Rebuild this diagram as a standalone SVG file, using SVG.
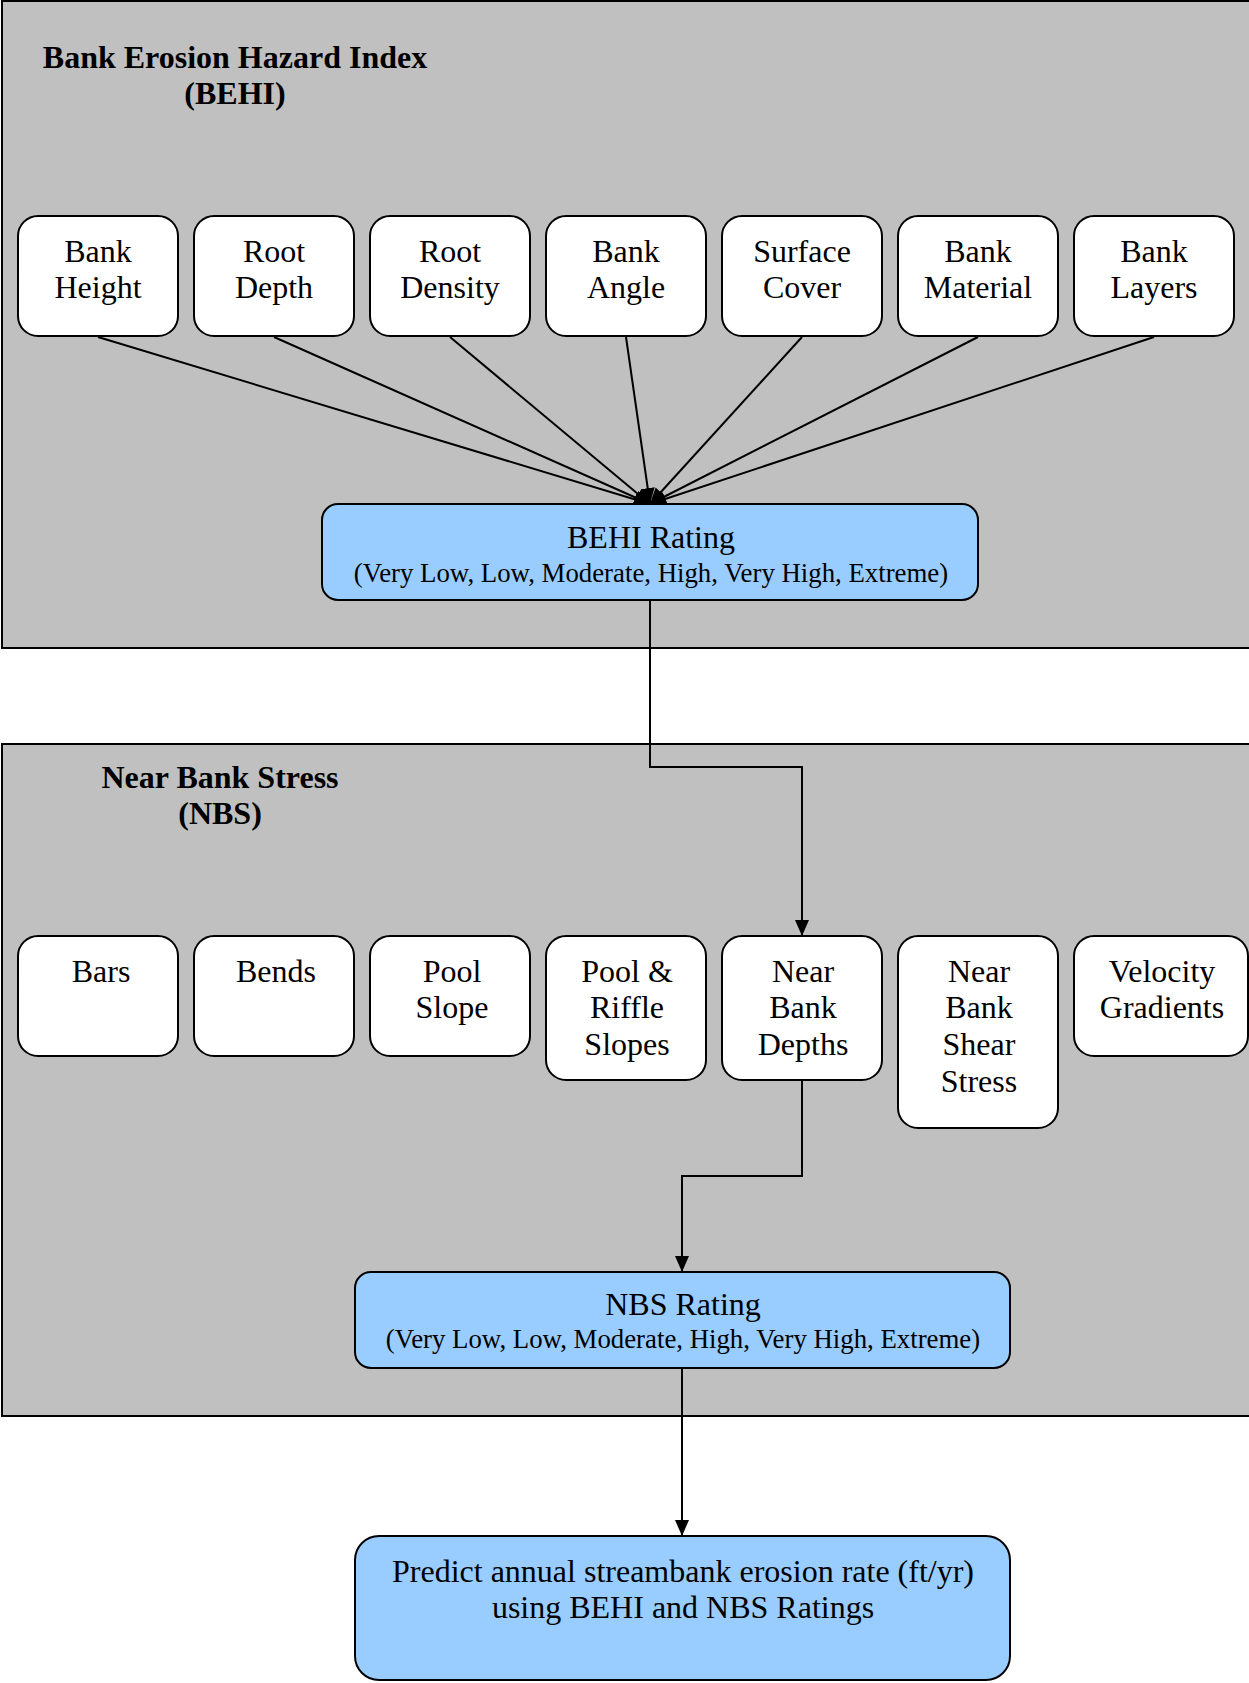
<svg xmlns="http://www.w3.org/2000/svg" width="1249" height="1683" viewBox="0 0 1249 1683">
<defs>
<style>
.panel{fill:#C0C0C0;stroke:#000;stroke-width:2}
.node{fill:#fff;stroke:#000;stroke-width:2}
.rate{fill:#99CCFF;stroke:#000;stroke-width:2}
.t{font-family:"Liberation Serif","Times New Roman",serif;font-size:32px;fill:#000;text-anchor:middle}
.ts{font-family:"Liberation Serif","Times New Roman",serif;font-size:26.8px;fill:#000;text-anchor:middle}
.title{font-family:"Liberation Serif","Times New Roman",serif;font-size:32px;font-weight:bold;fill:#000;text-anchor:middle}
.edge{fill:none;stroke:#000;stroke-width:2}
</style>
<marker id="arr" markerUnits="userSpaceOnUse" markerWidth="18" markerHeight="16" refX="16" refY="7" orient="auto">
<path d="M0,0 L16,7 L0,14 z" fill="#000"/>
</marker>
</defs>
<rect width="1249" height="1683" fill="#fff"/>
<g id="behi-panel">
<rect class="panel" x="2" y="1" width="1262" height="647"/>
<text class="title" x="235" y="68">Bank Erosion Hazard Index</text>
<text class="title" x="235" y="104">(BEHI)</text>
</g>
<g id="nbs-panel">
<rect class="panel" x="2" y="744" width="1262" height="672"/>
<text class="title" x="220" y="788">Near Bank Stress</text>
<text class="title" x="220" y="824">(NBS)</text>
</g>
<g id="connectors">
<line class="edge" x1="98" y1="337" x2="650" y2="504" marker-end="url(#arr)"/>
<line class="edge" x1="274" y1="337" x2="650" y2="504" marker-end="url(#arr)"/>
<line class="edge" x1="450" y1="337" x2="650" y2="504" marker-end="url(#arr)"/>
<line class="edge" x1="626" y1="337" x2="650" y2="504" marker-end="url(#arr)"/>
<line class="edge" x1="802" y1="337" x2="650" y2="504" marker-end="url(#arr)"/>
<line class="edge" x1="978" y1="337" x2="650" y2="504" marker-end="url(#arr)"/>
<line class="edge" x1="1154" y1="337" x2="650" y2="504" marker-end="url(#arr)"/>
<path class="edge" d="M650,600 V767 H802 V936" marker-end="url(#arr)"/>
<path class="edge" d="M802,1080 V1176 H682 V1272" marker-end="url(#arr)"/>
<path class="edge" d="M682,1368 V1536" marker-end="url(#arr)"/>
</g>
<g id="bank-height"><rect class="node" x="18" y="216" width="160" height="120" rx="20"/><text class="t" x="98" y="262">Bank</text><text class="t" x="98" y="298">Height</text></g>
<g id="root-depth"><rect class="node" x="194" y="216" width="160" height="120" rx="20"/><text class="t" x="274" y="262">Root</text><text class="t" x="274" y="298">Depth</text></g>
<g id="root-density"><rect class="node" x="370" y="216" width="160" height="120" rx="20"/><text class="t" x="450" y="262">Root</text><text class="t" x="450" y="298">Density</text></g>
<g id="bank-angle"><rect class="node" x="546" y="216" width="160" height="120" rx="20"/><text class="t" x="626" y="262">Bank</text><text class="t" x="626" y="298">Angle</text></g>
<g id="surface-cover"><rect class="node" x="722" y="216" width="160" height="120" rx="20"/><text class="t" x="802" y="262">Surface</text><text class="t" x="802" y="298">Cover</text></g>
<g id="bank-material"><rect class="node" x="898" y="216" width="160" height="120" rx="20"/><text class="t" x="978" y="262">Bank</text><text class="t" x="978" y="298">Material</text></g>
<g id="bank-layers"><rect class="node" x="1074" y="216" width="160" height="120" rx="20"/><text class="t" x="1154" y="262">Bank</text><text class="t" x="1154" y="298">Layers</text></g>
<g id="behi-rating"><rect class="rate" x="322" y="504" width="656" height="96" rx="16"/><text class="t" x="651" y="548">BEHI Rating</text><text class="ts" x="651" y="582">(Very Low, Low, Moderate, High, Very High, Extreme)</text></g>
<g id="bars"><rect class="node" x="18" y="936" width="160" height="120" rx="20"/><text class="t" x="101" y="982">Bars</text></g>
<g id="bends"><rect class="node" x="194" y="936" width="160" height="120" rx="20"/><text class="t" x="276" y="982">Bends</text></g>
<g id="pool-slope"><rect class="node" x="370" y="936" width="160" height="120" rx="20"/><text class="t" x="452" y="982">Pool</text><text class="t" x="452" y="1018">Slope</text></g>
<g id="pool-riffle-slopes"><rect class="node" x="546" y="936" width="160" height="144" rx="20"/><text class="t" x="627" y="982">Pool &amp;</text><text class="t" x="627" y="1018">Riffle</text><text class="t" x="627" y="1055">Slopes</text></g>
<g id="near-bank-depths"><rect class="node" x="722" y="936" width="160" height="144" rx="20"/><text class="t" x="803" y="982">Near</text><text class="t" x="803" y="1018">Bank</text><text class="t" x="803" y="1055">Depths</text></g>
<g id="near-bank-shear-stress"><rect class="node" x="898" y="936" width="160" height="192" rx="20"/><text class="t" x="979" y="982">Near</text><text class="t" x="979" y="1018">Bank</text><text class="t" x="979" y="1055">Shear</text><text class="t" x="979" y="1092">Stress</text></g>
<g id="velocity-gradients"><rect class="node" x="1074" y="936" width="174" height="120" rx="20"/><text class="t" x="1162" y="982">Velocity</text><text class="t" x="1162" y="1018">Gradients</text></g>
<g id="nbs-rating"><rect class="rate" x="355" y="1272" width="655" height="96" rx="16"/><text class="t" x="683" y="1315">NBS Rating</text><text class="ts" x="683" y="1348">(Very Low, Low, Moderate, High, Very High, Extreme)</text></g>
<g id="predict"><rect class="rate" x="355" y="1536" width="655" height="144" rx="24"/><text class="t" x="683" y="1582">Predict annual streambank erosion rate (ft/yr)</text><text class="t" x="683" y="1618">using BEHI and NBS Ratings</text></g>
</svg>
